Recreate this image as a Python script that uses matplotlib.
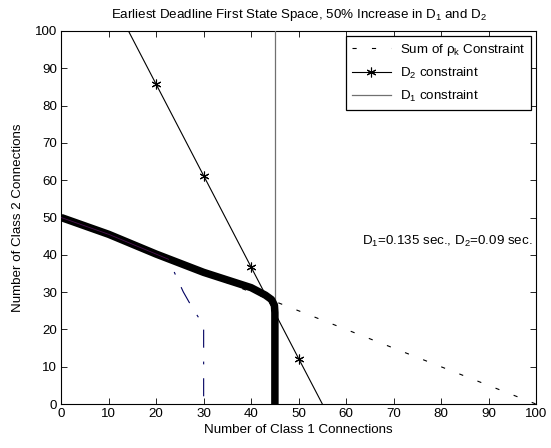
import matplotlib
matplotlib.use("Agg")
import matplotlib.pyplot as plt
from matplotlib.lines import Line2D

plt.rcParams['font.family'] = ['Liberation Sans', 'DejaVu Sans']
plt.rcParams['mathtext.fontset'] = 'custom'
plt.rcParams['mathtext.rm'] = 'Liberation Sans'
plt.rcParams['mathtext.it'] = 'Liberation Sans'
plt.rcParams['mathtext.default'] = 'regular'
plt.rcParams['lines.scale_dashes'] = False

# Data
sum_x = [0, 100]
sum_y = [50, 0]

d2_x = [10, 20, 30, 40, 50, 55]
d2_y = [110.2, 85.7, 61.2, 36.7, 12.2, 0]

d1_x = [45, 45]
d1_y = [0, 100]

region_x = [0, 10, 20, 30, 40, 43, 44.3, 44.9, 45, 45]
region_y = [50, 45.5, 40.2, 35.3, 31.2, 29.2, 28.0, 26.5, 24.5, 0]

alt_x = [0, 10, 20, 22.6, 24.4, 25.7, 27.7, 29.8, 30, 30]
alt_y = [50, 45.5, 40.2, 38.8, 33.7, 30.1, 25.6, 21.5, 21.0, 0]

purple_x = [0, 10, 20, 22.6]
purple_y = [50, 45.5, 40.2, 38.8]

FS = 9.6
STAR = (6, 2, 0)

fig = plt.figure(figsize=(5.51, 4.48), dpi=100)
ax = fig.add_axes([0.111, 0.098, 0.862, 0.833])

ax.plot(sum_x, sum_y, color='black', lw=0.8, dashes=(3, 11), zorder=2)
ax.plot(d2_x, d2_y, color='black', lw=0.8, marker=STAR, markersize=7, markeredgewidth=0.8,
        markevery=[0, 1, 2, 3, 4], zorder=3)
ax.plot(d1_x, d1_y, color='#707070', lw=0.9, zorder=3)
ax.plot(alt_x, alt_y, color='#000060', lw=0.8, dashes=(13, 10, 2, 10), zorder=2)
ax.plot(region_x, region_y, color='black', lw=5.4, solid_joinstyle='round', solid_capstyle='butt', zorder=4)
ax.plot(purple_x, purple_y, color='#4a1050', lw=0.6, zorder=5)

ax.set_xlim(0, 100)
ax.set_ylim(0, 100)
ax.set_xticks(range(0, 101, 10))
ax.set_yticks(range(0, 101, 10))
ax.tick_params(direction='in', top=True, right=True, labelsize=FS, length=4, width=0.6, pad=3)
for s in ax.spines.values():
    s.set_linewidth(0.8)

ax.set_title('Earliest Deadline First State Space, 50% Increase in D$_1$ and D$_2$', fontsize=FS, pad=9)
ax.set_xlabel('Number of Class 1 Connections', fontsize=FS, labelpad=3)
ax.set_ylabel('Number of Class 2 Connections', fontsize=FS, labelpad=8)

ax.text(63.4, 43.5, 'D$_1$=0.135 sec., D$_2$=0.09 sec.', fontsize=FS, va='center', ha='left')

handles = [
    Line2D([], [], color='black', lw=0.8, dashes=(3, 11)),
    Line2D([], [], color='black', lw=0.8, marker=STAR, markersize=7, markeredgewidth=0.8),
    Line2D([], [], color='#707070', lw=0.9),
]
labels = ['Sum of ρ$_k$ Constraint', 'D$_2$ constraint', 'D$_1$ constraint']
leg = ax.legend(handles, labels, loc='upper right', fontsize=FS, fancybox=False, framealpha=1,
                edgecolor='black', borderaxespad=0.35, handlelength=2.9, labelspacing=0.6,
                borderpad=0.45, handletextpad=0.7, numpoints=1)
leg.get_frame().set_linewidth(0.9)

fig.savefig('out.png', dpi=100)
